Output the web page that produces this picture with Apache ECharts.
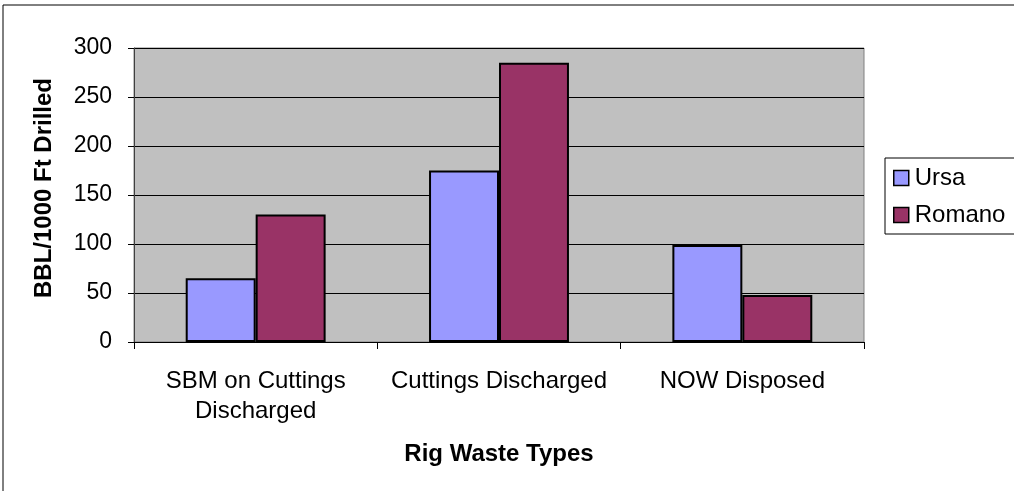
<!DOCTYPE html>
<html>
<head>
<meta charset="utf-8">
<script src="https://cdn.jsdelivr.net/npm/echarts@6/dist/echarts.min.js"></script>
<style>
  html, body { margin: 0; padding: 0; background: #fff; }
  #chart { width: 1014px; height: 491px; }
</style>
</head>
<body>
<div id="chart"></div>
<script>
// Rig waste volumes per 1000 ft drilled
const categories = ['SBM on Cuttings\nDischarged', 'Cuttings Discharged', 'NOW Disposed'];
const ursa = [65, 175, 99];
const romano = [130, 285, 48];
const yTicks = { min: 0, max: 300, interval: 50 };

const FONT = '"Liberation Sans", Arial, sans-serif';
const chart = echarts.init(document.getElementById('chart'), null, { renderer: 'canvas' });

chart.setOption({
  animation: false,
  backgroundColor: '#ffffff',
  textStyle: { fontFamily: FONT },
  graphic: [{
    type: 'rect',
    shape: { x: 3, y: 5, width: 1100, height: 600 },
    style: { fill: 'none', stroke: '#000', lineWidth: 1 },
    silent: true,
    z: -10
  }],
  grid: {
    left: 134, right: 150, top: 48, bottom: 149,
    show: true,
    backgroundColor: '#C0C0C0',
    borderColor: '#808080',
    borderWidth: 1
  },
  legend: {
    orient: 'vertical',
    left: 885, top: 158,
    padding: [8, 30, 7, 8],
    itemGap: 13,
    itemWidth: 15, itemHeight: 15,
    backgroundColor: '#fff',
    borderColor: '#000', borderWidth: 1,
    borderRadius: 0,
    icon: 'rect',
    itemStyle: { borderColor: '#000', borderWidth: 1.5 },
    textStyle: { fontFamily: FONT, fontSize: 24, color: '#000', padding: [0, 0, 0, 1] },
    data: ['Ursa', 'Romano']
  },
  xAxis: {
    type: 'category',
    data: categories,
    name: 'Rig Waste Types',
    nameLocation: 'middle',
    nameGap: 100,
    nameTextStyle: { fontFamily: FONT, fontSize: 24, fontWeight: 'bold', color: '#000' },
    axisLine: { lineStyle: { color: '#000', width: 1 } },
    axisTick: { show: true, length: 7, lineStyle: { color: '#000' } },
    axisLabel: { fontFamily: FONT, fontSize: 24, color: '#000', margin: 24, lineHeight: 30, interval: 0 },
    splitLine: { show: false }
  },
  yAxis: {
    type: 'value',
    min: yTicks.min, max: yTicks.max, interval: yTicks.interval,
    name: 'BBL/1000 Ft Drilled',
    nameLocation: 'middle',
    nameGap: 78,
    nameTextStyle: { fontFamily: FONT, fontSize: 24, fontWeight: 'bold', color: '#000', padding: [0, 0, 0, 14] },
    axisLine: { show: true, lineStyle: { color: '#404040', width: 1 } },
    axisTick: { show: true, length: 6, lineStyle: { color: '#000' } },
    axisLabel: { fontFamily: FONT, fontSize: 23, color: '#000', margin: 22 },
    splitLine: { show: true, lineStyle: { color: '#000', width: 1 } }
  },
  series: [
    {
      name: 'Ursa', type: 'bar', data: ursa,
      barGap: '0%', barCategoryGap: '42.5%',
      itemStyle: { color: '#9999FF', borderColor: '#000', borderWidth: 2 }
    },
    {
      name: 'Romano', type: 'bar', data: romano,
      barGap: '0%', barCategoryGap: '42.5%',
      itemStyle: { color: '#993366', borderColor: '#000', borderWidth: 2 }
    }
  ]
});
</script>
</body>
</html>
